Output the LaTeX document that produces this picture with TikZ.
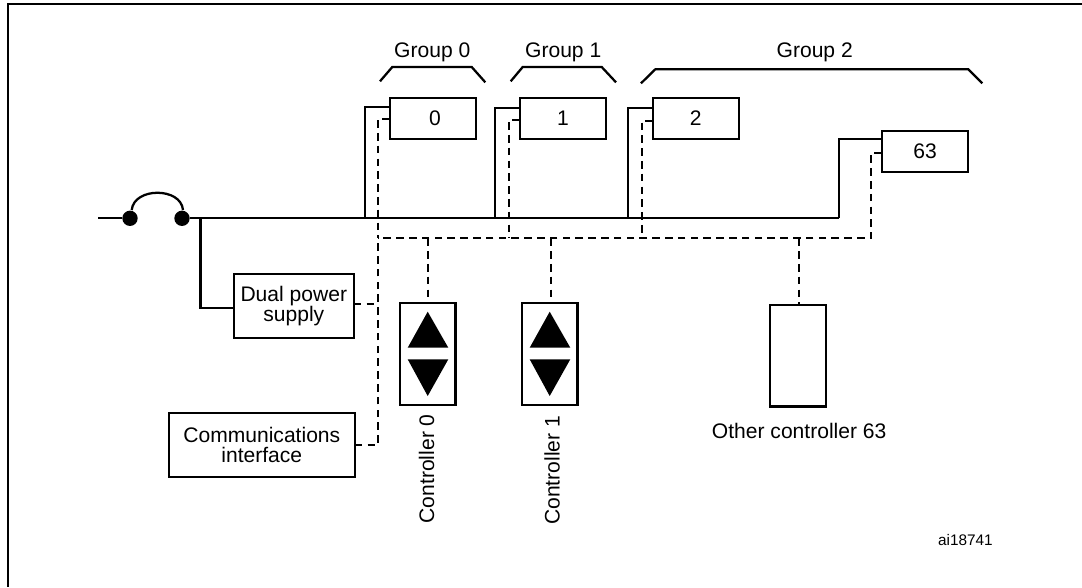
\documentclass[tikz,border=0pt]{standalone}
\usepackage{fontspec}
\setmainfont{Liberation Sans}
\usetikzlibrary{calc}
\tikzset{
	wire/.style={line width=1.7pt},
	dashwire/.style={line width=1.7pt, dash pattern=on 5.7pt off 3.9pt},
	unitbox/.style={draw, line width=1.7pt, inner sep=0pt, minimum width=64.5pt, minimum height=30.75pt},
	ctrlbox/.style={draw, line width=1.7pt, inner sep=0pt, minimum width=41.5pt, minimum height=76.3pt},
	infobox/.style={draw, line width=1.7pt, inner sep=0pt, align=center, minimum height=48.2pt},
	dot/.style={circle, fill=black, inner sep=0pt, minimum size=11.5pt},
	lbl/.style={inner sep=0pt}
}
\begin{document}
\begin{tikzpicture}[x=0.75pt, y=-0.75pt, font=\fontsize{15.8}{15.5}\selectfont]
	%%%%% START %%%%%
	\useasboundingbox (0, 0) rectangle (1082, 587);

	\draw[line width=1.6pt] (1082, 4) -- (8, 4) -- (8, 587);

	% units
	\node[unitbox] (unit0) at (432.7, 118.2) {\hspace{3.4pt}0};
	\node[unitbox] (unit1) at (563, 118.2) {1\hspace{3pt}};
	\node[unitbox] (unit2) at (695.8, 118.2) {2\hspace{1.2pt}};
	\node[unitbox] (unit63) at (925.2, 151.3) {63\hspace{2pt}};

	% group labels
	\node[lbl] (group0) at (432.3, 52.5) {Group 0};
	\node[lbl] (group1) at (563.2, 52.5) {Group 1};
	\node[lbl] (group2) at (814.7, 52.5) {Group 2};
	\draw[wire] (380, 81.3) -- (392.3, 67) -- (471.7, 67) -- (485.3, 82.3);
	\draw[wire] (510.7, 81.3) -- (522.7, 67) -- (601.7, 67) -- (616, 82.3);
	\draw[wire] (641, 83.3) -- (655.3, 69.3) -- (968.3, 69.3) -- (982.3, 83.3);

	% supply and interface
	\node[infobox, minimum width=89.8pt] (supply) at (293.8, 306.2) {Dual power\\supply};
	\node[infobox, minimum width=139.3pt] (comms) at (261.8, 444.8) {Communications\\interface};

	% controllers
	\node[ctrlbox] (ctrl0) at (427.7, 354.2) {};
	\node[ctrlbox] (ctrl1) at (549.7, 354.2) {};
	\node[ctrlbox] (ctrl63) at (798, 355.7) {};
	\node[lbl, rotate=90] (name0) at (426.7, 468.8) {Controller 0};
	\node[lbl, rotate=90] (name1) at (552, 470.3) {Controller 1};
	\node[lbl] (name63) at (799.2, 431) {Other controller 63};

	\fill (427.7, 311.7) -- (448.3, 347.7) -- (407.7, 347.7) -- cycle;
	\fill (407.7, 359.3) -- (448.3, 359.3) -- (427.7, 396) -- cycle;
	\fill (549.7, 311.7) -- (570.3, 347.7) -- (529.7, 347.7) -- cycle;
	\fill (529.7, 359.3) -- (570.3, 359.3) -- (549.7, 396) -- cycle;

	% power bus
	\coordinate (busstart) at (98, 218.3);
	\node[dot] (dotL) at (130, 218.3) {};
	\node[dot] (dotR) at (182, 218.3) {};
	\coordinate (busend) at (838.7, 218.3);
	\coordinate (tap0) at (365.3, 218.3);
	\coordinate (tap1) at (495, 218.3);
	\coordinate (tap2) at (627.7, 218.3);
	\coordinate (tapsupply) at (200.5, 218.3);
	\coordinate (pin0) at (389.7, 106.7);
	\coordinate (pin1) at (520, 108.3);
	\coordinate (pin2) at (652.7, 107.7);
	\coordinate (pin63) at (882, 139.3);
	\coordinate (pinsupply) at (234, 307.7);

	\draw[wire] (busstart) -- (dotL);
	\draw[wire] (dotR) -- (busend);
	\draw[wire] (131.7, 210) .. controls (134, 187) and (181, 187) .. (183, 210);
	\draw[wire] (tap0) |- (pin0);
	\draw[wire] (tap1) |- (pin1);
	\draw[wire] (tap2) |- (pin2);
	\draw[wire] (busend) |- (pin63);
	\draw[wire] (tapsupply) |- (pinsupply);

	% control bus
	\coordinate (dash0) at (389.7, 119.3);
	\coordinate (dash1) at (520, 120);
	\coordinate (dash2) at (652.7, 120.7);
	\coordinate (dash63) at (882, 153.3);
	\coordinate (dashcomms) at (354.7, 445.3);
	\coordinate (dashsupply) at (353.7, 304);
	\coordinate (join0) at (377.7, 238.3);
	\coordinate (joinsupply) at (377.7, 304);
	\coordinate (jointop0) at (427.7, 238.3);
	\coordinate (jointop1) at (551.3, 238.3);
	\coordinate (jointop63) at (799.3, 238.3);

	\draw[dashwire] (dash0) -| (join0);
	\draw[dashwire] (dash1) -| (509.3, 238.3);
	\draw[dashwire] (dash2) -| (641.7, 238.3);
	\draw[dashwire] (dash63) -| (871.3, 238.3) -- (join0);
	\draw[dashwire] (dashcomms) -| (join0);
	\draw[dashwire] (dashsupply) -- (joinsupply);
	\draw[dashwire] (jointop0) -- (ctrl0.north -| jointop0);
	\draw[dashwire] (jointop1) -- (ctrl1.north -| jointop1);
	\draw[dashwire] (jointop63) -- (ctrl63.north -| jointop63);

	\node[lbl, font=\fontsize{11.5}{13}\selectfont, anchor=east] (partno) at (993, 540) {ai18741};
	%%%%% END %%%%%
\end{tikzpicture}
\end{document}
